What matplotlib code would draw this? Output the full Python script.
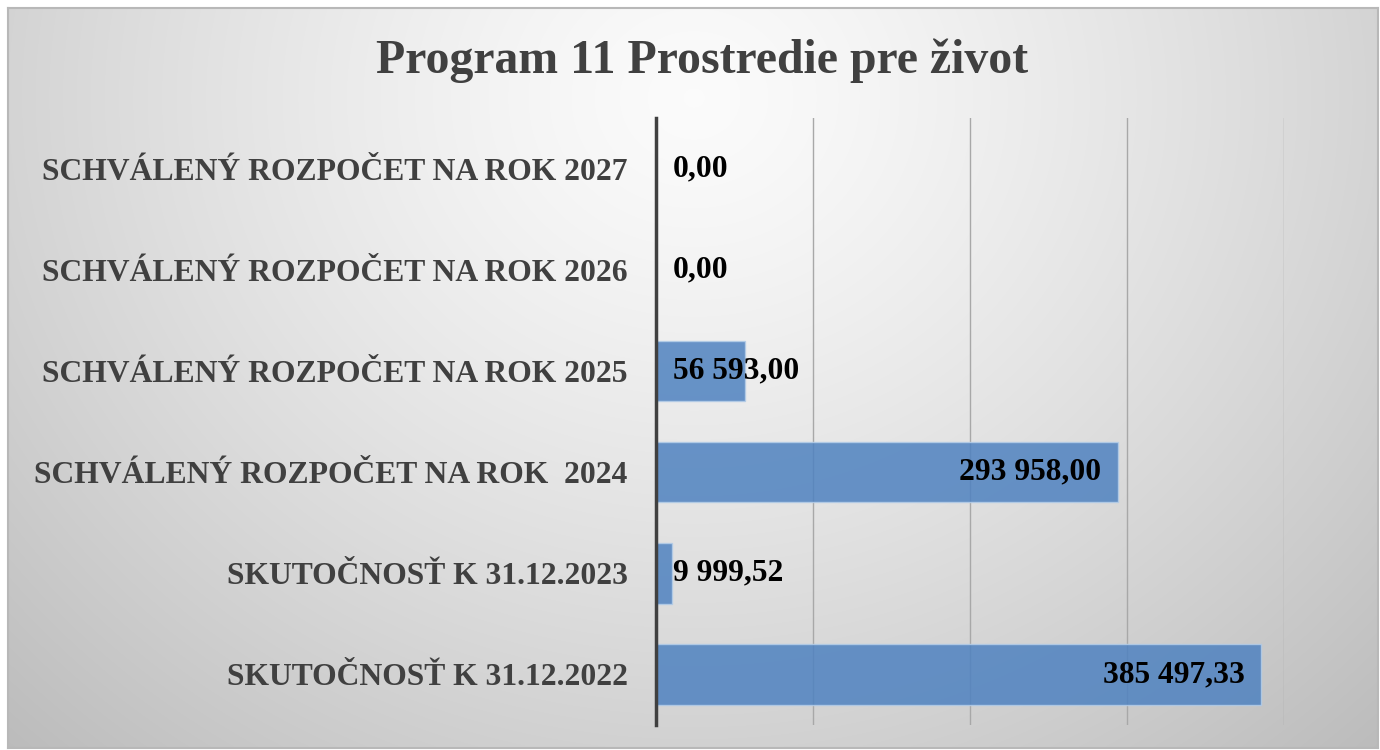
import numpy as np
import matplotlib
matplotlib.use("Agg")
import matplotlib.pyplot as plt

categories = [
    "SKUTOČNOSŤ K 31.12.2022",
    "SKUTOČNOSŤ K 31.12.2023",
    "SCHVÁLENÝ ROZPOČET NA ROK  2024",
    "SCHVÁLENÝ ROZPOČET NA ROK 2025",
    "SCHVÁLENÝ ROZPOČET NA ROK 2026",
    "SCHVÁLENÝ ROZPOČET NA ROK 2027",
]
values = [385497.33, 9999.52, 293958.00, 56593.00, 0.0, 0.0]
value_labels = ["385 497,33", "9 999,52", "293 958,00", "56 593,00", "0,00", "0,00"]
title = "Program 11 Prostredie pre život"

W, H = 1380, 750
fig = plt.figure(figsize=(W / 100, H / 100), dpi=100)
fig.patch.set_facecolor("white")

# background panel with radial gradient
bg = fig.add_axes([8 / W, 2 / H, 1370 / W, 740 / H], zorder=0)
ny, nx = 300, 600
yy, xx = np.mgrid[0:ny, 0:nx]
cx, cy = 0.50 * nx, 0.12 * ny
r = np.sqrt(((xx - cx) / (0.75 * nx)) ** 2 + ((yy - cy) / (1.25 * ny)) ** 2)
val = 0.985 - 0.26 * np.clip(r, 0, 1.2) ** 1.3
img = np.dstack([val, val, val])
bg.imshow(img, aspect="auto", extent=[0, 1, 0, 1], interpolation="bicubic")
bg.set_xlim(0, 1)
bg.set_ylim(0, 1)
bg.set_xticks([])
bg.set_yticks([])
for s in bg.spines.values():
    s.set_color("#b8b8b8")
    s.set_linewidth(1.5)

ax = fig.add_axes([656 / W, 1 - 725 / H, (1284 - 656) / W, (725 - 118) / H], zorder=2)
ax.patch.set_alpha(0)

y = np.arange(len(categories))
ax.barh(y, values, height=0.6, color="#4f82c0", alpha=0.85,
        edgecolor="#b4cde8", linewidth=1.0, zorder=3)

ax.set_xlim(0, 400000)
ax.set_ylim(-0.5, len(categories) - 0.5)
ax.set_xticks([0, 100000, 200000, 300000, 400000])
ax.xaxis.grid(True, color="#a8a8a8", linewidth=1.0, zorder=1)
ax.set_axisbelow(True)
ax.tick_params(axis="x", bottom=False, labelbottom=False)
ax.tick_params(axis="y", left=False, pad=17)
ax.set_yticks(y)
ax.set_yticklabels(categories, fontfamily="Liberation Serif", fontweight="bold",
                   fontsize=22.8, color="#404040")
for k in ["top", "right", "bottom"]:
    ax.spines[k].set_visible(False)
ax.spines["left"].set_color("#404040")
ax.spines["left"].set_linewidth(2.5)
ax.spines["left"].set_zorder(5)

for yi, v, lab in zip(y, values, value_labels):
    if v > 100000:
        ax.annotate(lab, (v, yi), xytext=(-12, 0), textcoords="offset points",
                    ha="right", va="center", fontfamily="Liberation Serif",
                    fontweight="bold", fontsize=22.7, color="black", zorder=6)
    else:
        ax.annotate(lab, (0, yi), xytext=(12, 0), textcoords="offset points",
                    ha="left", va="center", fontfamily="Liberation Serif",
                    fontweight="bold", fontsize=22.7, color="black", zorder=6)

fig.text(702 / W, 1 - 61 / H, title, ha="center", va="center",
         fontfamily="Liberation Serif", fontweight="bold", fontsize=34.4,
         color="#404040", zorder=3)

fig.savefig("out.png", dpi=100)
